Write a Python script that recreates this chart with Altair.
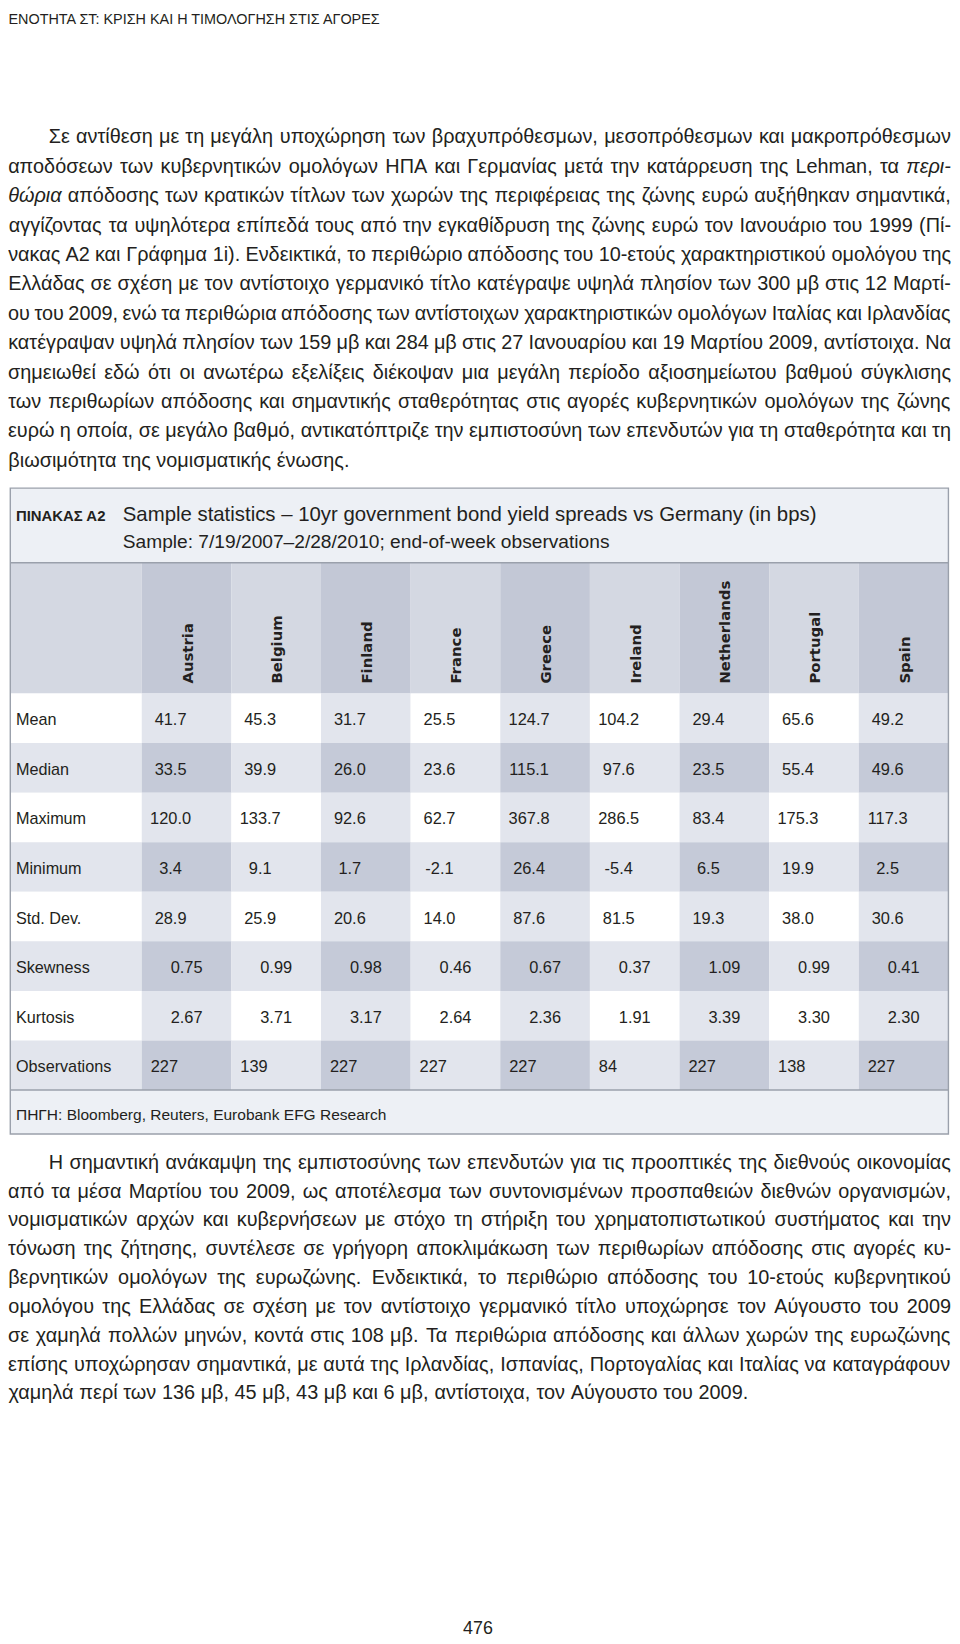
import unicodedata
import altair as alt
import pandas as pd

# ---------------- content ----------------
header_text = "ΕΝΟΤΗΤΑ ΣΤ: ΚΡΙΣΗ ΚΑΙ Η ΤΙΜΟΛΟΓΗΣΗ ΣΤΙΣ ΑΓΟΡΕΣ"

para1 = [
    "Σε αντίθεση με τη μεγάλη υποχώρηση των βραχυπρόθεσμων, μεσοπρόθεσμων και μακροπρόθεσμων",
    "αποδόσεων των κυβερνητικών ομολόγων ΗΠΑ και Γερμανίας μετά την κατάρρευση της Lehman, τα περι-",
    "θώρια απόδοσης των κρατικών τίτλων των χωρών της περιφέρειας της ζώνης ευρώ αυξήθηκαν σημαντικά,",
    "αγγίζοντας τα υψηλότερα επίπεδά τους από την εγκαθίδρυση της ζώνης ευρώ τον Ιανουάριο του 1999 (Πί-",
    "νακας Α2 και Γράφημα 1i). Ενδεικτικά, το περιθώριο απόδοσης του 10-ετούς χαρακτηριστικού ομολόγου της",
    "Ελλάδας σε σχέση με τον αντίστοιχο γερμανικό τίτλο κατέγραψε υψηλά πλησίον των 300 μβ στις 12 Μαρτί-",
    "ου του 2009, ενώ τα περιθώρια απόδοσης των αντίστοιχων χαρακτηριστικών ομολόγων Ιταλίας και Ιρλανδίας",
    "κατέγραψαν υψηλά πλησίον των 159 μβ και 284 μβ στις 27 Ιανουαρίου και 19 Μαρτίου 2009, αντίστοιχα. Να",
    "σημειωθεί εδώ ότι οι ανωτέρω εξελίξεις διέκοψαν μια μεγάλη περίοδο αξιοσημείωτου βαθμού σύγκλισης",
    "των περιθωρίων απόδοσης και σημαντικής σταθερότητας στις αγορές κυβερνητικών ομολόγων της ζώνης",
    "ευρώ η οποία, σε μεγάλο βαθμό, αντικατόπτριζε την εμπιστοσύνη των επενδυτών για τη σταθερότητα και τη",
    "βιωσιμότητα της νομισματικής ένωσης.",
]
para1_italic = [(1, "περι-"), (2, "θώρια")]

para2 = [
    "Η σημαντική ανάκαμψη της εμπιστοσύνης των επενδυτών για τις προοπτικές της διεθνούς οικονομίας",
    "από τα μέσα Μαρτίου του 2009, ως αποτέλεσμα των συντονισμένων προσπαθειών διεθνών οργανισμών,",
    "νομισματικών αρχών και κυβερνήσεων με στόχο τη στήριξη του χρηματοπιστωτικού συστήματος και την",
    "τόνωση της ζήτησης, συντέλεσε σε γρήγορη αποκλιμάκωση των περιθωρίων απόδοσης στις αγορές κυ-",
    "βερνητικών ομολόγων της ευρωζώνης. Ενδεικτικά, το περιθώριο απόδοσης του 10-ετούς κυβερνητικού",
    "ομολόγου της Ελλάδας σε σχέση με τον αντίστοιχο γερμανικό τίτλο υποχώρησε τον Αύγουστο του 2009",
    "σε χαμηλά πολλών μηνών, κοντά στις 108 μβ. Τα περιθώρια απόδοσης και άλλων χωρών της ευρωζώνης",
    "επίσης υποχώρησαν σημαντικά, με αυτά της Ιρλανδίας, Ισπανίας, Πορτογαλίας και Ιταλίας να καταγράφουν",
    "χαμηλά περί των 136 μβ, 45 μβ, 43 μβ και 6 μβ, αντίστοιχα, τον Αύγουστο του 2009.",
]

table_label = "ΠΙΝΑΚΑΣ Α2"
table_title = "Sample statistics – 10yr government bond yield spreads vs Germany (in bps)"
table_subtitle = "Sample: 7/19/2007–2/28/2010; end-of-week observations"
table_source = "ΠΗΓΗ: Bloomberg, Reuters, Eurobank EFG Research"
page_number = "476"

countries = ["Austria", "Belgium", "Finland", "France", "Greece",
             "Ireland", "Netherlands", "Portugal", "Spain"]
stat_names = ["Mean", "Median", "Maximum", "Minimum", "Std. Dev.",
              "Skewness", "Kurtosis", "Observations"]
mean_vals = [41.7, 45.3, 31.7, 25.5, 124.7, 104.2, 29.4, 65.6, 49.2]
median_vals = [33.5, 39.9, 26.0, 23.6, 115.1, 97.6, 23.5, 55.4, 49.6]
max_vals = [120.0, 133.7, 92.6, 62.7, 367.8, 286.5, 83.4, 175.3, 117.3]
min_vals = [3.4, 9.1, 1.7, -2.1, 26.4, -5.4, 6.5, 19.9, 2.5]
std_vals = [28.9, 25.9, 20.6, 14.0, 87.6, 81.5, 19.3, 38.0, 30.6]
skew_vals = [0.75, 0.99, 0.98, 0.46, 0.67, 0.37, 1.09, 0.99, 0.41]
kurt_vals = [2.67, 3.71, 3.17, 2.64, 2.36, 1.91, 3.39, 3.30, 2.30]
obs_vals = [227, 139, 227, 227, 227, 84, 227, 138, 227]

# ---------------- layout / style ----------------
W, H = 950, 1640
INK = "#231f20"
SANS = "Liberation Sans, Arial, sans-serif"

P_FS_MAX = 20.0
P_MIN_SPACE = 0.16   # em
P_LEFT, P_RIGHT, P_INDENT = 0.0, 949.0, 41.0
P1_Y0, P1_DY = 125.0, 29.6
P2_Y0, P2_DY = 1157.0, 29.0

TL, TR = 2.3, 946.4
TT, TB = 478.0, 1128.0
TITLE_B = 553.0
HEAD_B = 684.7
ROW_H = 49.875
LABEL_R = 134.6
COL_W = (TR - LABEL_R) / 9
SRC_T = HEAD_B + ROW_H * len(stat_names)

C_TITLE_BG = "#edf0f5"
C_HEAD_L = "#d4d8e2"
C_HEAD_D = "#c3c8d6"
C_LIGHT = "#e2e5ed"
C_DARK = "#c5cad8"
C_WHITE = "#ffffff"
C_BORDER = "#9aa0ab"

# Arial / Liberation Sans advance widths (1/1000 em)
CW = {}
CW.update(dict(zip("abcdefghijklmnopqrstuvwxyz",
                   [556, 556, 500, 556, 556, 278, 556, 556, 222, 222, 500, 222, 833,
                    556, 556, 556, 556, 333, 500, 278, 556, 500, 722, 500, 500, 500])))
CW.update(dict(zip("ABCDEFGHIJKLMNOPQRSTUVWXYZ",
                   [667, 667, 722, 722, 667, 611, 778, 722, 278, 500, 667, 556, 833,
                    722, 778, 667, 778, 722, 667, 611, 722, 667, 944, 667, 667, 611])))
CW.update(dict(zip("αβγδεζηθικλμνξοπρςστυφχψω",
                   [578, 575, 500, 556, 446, 441, 556, 556, 222, 500, 500, 576, 500,
                    441, 556, 687, 569, 482, 617, 395, 546, 715, 525, 715, 781])))
CW.update(dict(zip("ΑΒΓΔΕΖΗΘΙΚΛΜΝΞΟΠΡΣΤΥΦΧΨΩ",
                   [667, 667, 551, 668, 667, 611, 722, 778, 278, 667, 668, 833, 722,
                    650, 778, 722, 667, 618, 611, 667, 798, 667, 835, 747])))
CW.update({c: 556 for c in "0123456789"})
CW.update({" ": 278, ",": 278, ".": 278, ":": 278, ";": 278, "(": 333, ")": 333,
           "-": 333, "–": 556, "/": 278})


def em_width(s):
    total = 0
    for ch in s:
        base = unicodedata.normalize("NFD", ch)[0]
        total += CW.get(base, 556)
    return total / 1000.0


def text_width(s, size):
    return em_width(s) * size


# font size that lets every justified line fit with at least a minimal word space
def fit_size(paragraphs):
    best = P_FS_MAX
    for lines in paragraphs:
        for i, line in enumerate(lines[:-1]):
            words = line.split(" ")
            avail = P_RIGHT - P_LEFT - (P_INDENT if i == 0 else 0.0)
            need = sum(em_width(w) for w in words) + (len(words) - 1) * P_MIN_SPACE
            best = min(best, avail / need)
    return best


P_FS = fit_size([para1, para2])


def layout_paragraph(lines, y0, dy, italic):
    rows = []
    for i, line in enumerate(lines):
        y = y0 + i * dy
        x0 = P_LEFT + (P_INDENT if i == 0 else 0.0)
        words = line.split(" ")
        widths = [text_width(w, P_FS) for w in words]
        last = (i == len(lines) - 1)
        if last or len(words) < 2:
            gap = text_width(" ", P_FS)
        else:
            gap = (P_RIGHT - x0 - sum(widths)) / (len(words) - 1)
        x = x0
        for w, wd in zip(words, widths):
            rows.append({"x": x + wd / 2.0, "y": y, "text": w,
                         "italic": (i, w) in italic})
            x += wd + gap
    return pd.DataFrame(rows)


XS = alt.Scale(domain=[0, W], nice=False, zero=False)
YS = alt.Scale(domain=[0, H], nice=False, zero=False, reverse=True)


def txt(df, **kw):
    return alt.Chart(df).mark_text(**kw).encode(
        x=alt.X("x:Q", scale=XS, axis=None),
        y=alt.Y("y:Q", scale=YS, axis=None),
        text=alt.Text("text:N"),
    )


# ---------------- paragraphs ----------------
p1 = layout_paragraph(para1, P1_Y0, P1_DY, set(para1_italic))
p2 = layout_paragraph(para2, P2_Y0, P2_DY, set())
pw = pd.concat([p1, p2], ignore_index=True)
pw_reg = pw[~pw["italic"]]
pw_it = pw[pw["italic"]]

para_layer = txt(pw_reg, font=SANS, fontSize=P_FS, color=INK, align="center", baseline="middle")
para_it_layer = txt(pw_it, font=SANS, fontSize=P_FS, fontStyle="italic", color=INK,
                    align="center", baseline="middle")

header_layer = txt(pd.DataFrame([{"x": 0.5, "y": 0.0, "text": header_text}]),
                   font=SANS, fontSize=14.5, color=INK, align="left", baseline="top")

page_layer = txt(pd.DataFrame([{"x": 473.0, "y": 1626.0, "text": page_number}]),
                 font=SANS, fontSize=18, color=INK, align="center", baseline="middle")

# ---------------- table cells ----------------
cells = []
cells.append({"x": TL, "x2": TR, "y": TT, "y2": TITLE_B, "fill": C_TITLE_BG})
cells.append({"x": TL, "x2": TR, "y": SRC_T, "y2": TB, "fill": C_TITLE_BG})
cells.append({"x": TL, "x2": LABEL_R, "y": TITLE_B, "y2": HEAD_B, "fill": C_HEAD_L})
for c, _ in enumerate(countries):
    cells.append({"x": LABEL_R + c * COL_W, "x2": LABEL_R + (c + 1) * COL_W,
                  "y": TITLE_B, "y2": HEAD_B,
                  "fill": C_HEAD_D if c % 2 == 0 else C_HEAD_L})
for r, _ in enumerate(stat_names):
    y1 = HEAD_B + r * ROW_H
    y2 = y1 + ROW_H
    odd = (r % 2 == 1)
    cells.append({"x": TL, "x2": LABEL_R, "y": y1, "y2": y2,
                  "fill": C_LIGHT if odd else C_WHITE})
    for c, _ in enumerate(countries):
        if c % 2 == 0:
            f = C_DARK if odd else C_LIGHT
        else:
            f = C_LIGHT if odd else C_WHITE
        cells.append({"x": LABEL_R + c * COL_W, "x2": LABEL_R + (c + 1) * COL_W,
                      "y": y1, "y2": y2, "fill": f})
cells_df = pd.DataFrame(cells)

cell_layer = alt.Chart(cells_df).mark_rect(strokeWidth=0).encode(
    x=alt.X("x:Q", scale=XS, axis=None), x2="x2:Q",
    y=alt.Y("y:Q", scale=YS, axis=None), y2="y2:Q",
    color=alt.Color("fill:N", scale=None, legend=None),
)

box_layer = alt.Chart(pd.DataFrame([{"x": TL, "x2": TR, "y": TT, "y2": TB}])).mark_rect(
    fillOpacity=0, stroke=C_BORDER, strokeWidth=1.4).encode(
    x=alt.X("x:Q", scale=XS, axis=None), x2="x2:Q",
    y=alt.Y("y:Q", scale=YS, axis=None), y2="y2:Q",
)

rules_df = pd.DataFrame([{"x": TL, "x2": TR, "y": TITLE_B},
                         {"x": TL, "x2": TR, "y": SRC_T}])
rule_layer = alt.Chart(rules_df).mark_rule(color=C_BORDER, strokeWidth=1.4).encode(
    x=alt.X("x:Q", scale=XS, axis=None), x2="x2:Q",
    y=alt.Y("y:Q", scale=YS, axis=None),
)

# ---------------- table texts ----------------
tlabel_layer = txt(pd.DataFrame([{"x": 8.0, "y": TT + 28.0, "text": table_label}]),
                   font=SANS, fontSize=15, fontWeight="bold", color=INK,
                   align="left", baseline="middle")
ttitle_layer = txt(pd.DataFrame([{"x": 115.5, "y": TT + 27.0, "text": table_title}]),
                   font=SANS, fontSize=20.5, color=INK, align="left", baseline="middle")
tsub_layer = txt(pd.DataFrame([{"x": 115.5, "y": TT + 54.0, "text": table_subtitle}]),
                 font=SANS, fontSize=19.3, color=INK, align="left", baseline="middle")
tsrc_layer = txt(pd.DataFrame([{"x": 8.0, "y": (SRC_T + TB) / 2 + 3.0, "text": table_source}]),
                 font=SANS, fontSize=15.6, color=INK, align="left", baseline="middle")

head_df = pd.DataFrame([{"x": LABEL_R + (c + 0.5) * COL_W + 1.0, "y": HEAD_B - 10.0, "text": name}
                        for c, name in enumerate(countries)])
head_layer = txt(head_df, font="DejaVu Sans", fontSize=15, fontWeight="bold", color=INK,
                 angle=270, align="left", baseline="middle")

rowlab_df = pd.DataFrame([{"x": 8.0, "y": HEAD_B + (r + 0.5) * ROW_H + 2.0, "text": s}
                          for r, s in enumerate(stat_names)])
rowlab_layer = txt(rowlab_df, font=SANS, fontSize=16.3, color=INK, align="left", baseline="middle")

series = [mean_vals, median_vals, max_vals, min_vals, std_vals, skew_vals, kurt_vals, obs_vals]
val_rows = []
VAL_FS = 16.5
for r, vals in enumerate(series):
    y = HEAD_B + (r + 0.5) * ROW_H + 2.0
    for c, v in enumerate(vals):
        x_start = LABEL_R + c * COL_W
        if r <= 4:
            s = f"{v:.1f}"
            xc = x_start + 29.0
        elif r <= 6:
            s = f"{v:.2f}"
            xc = x_start + COL_W / 2.0
        else:
            s = f"{v:d}"
            xc = x_start + 9.0 + text_width(s, VAL_FS) / 2.0
        val_rows.append({"x": xc, "y": y, "text": s})
val_layer = txt(pd.DataFrame(val_rows), font=SANS, fontSize=VAL_FS, color=INK,
                align="center", baseline="middle")

chart = alt.layer(
    cell_layer, rule_layer, box_layer,
    header_layer, para_layer, para_it_layer,
    tlabel_layer, ttitle_layer, tsub_layer, head_layer, rowlab_layer, val_layer, tsrc_layer,
    page_layer,
).properties(
    width=W, height=H, padding=0,
    autosize=alt.AutoSizeParams(type="none"),
    background="white",
).configure_view(stroke=None)

chart.save("out.html", embed_options={"renderer": "svg", "actions": False})
